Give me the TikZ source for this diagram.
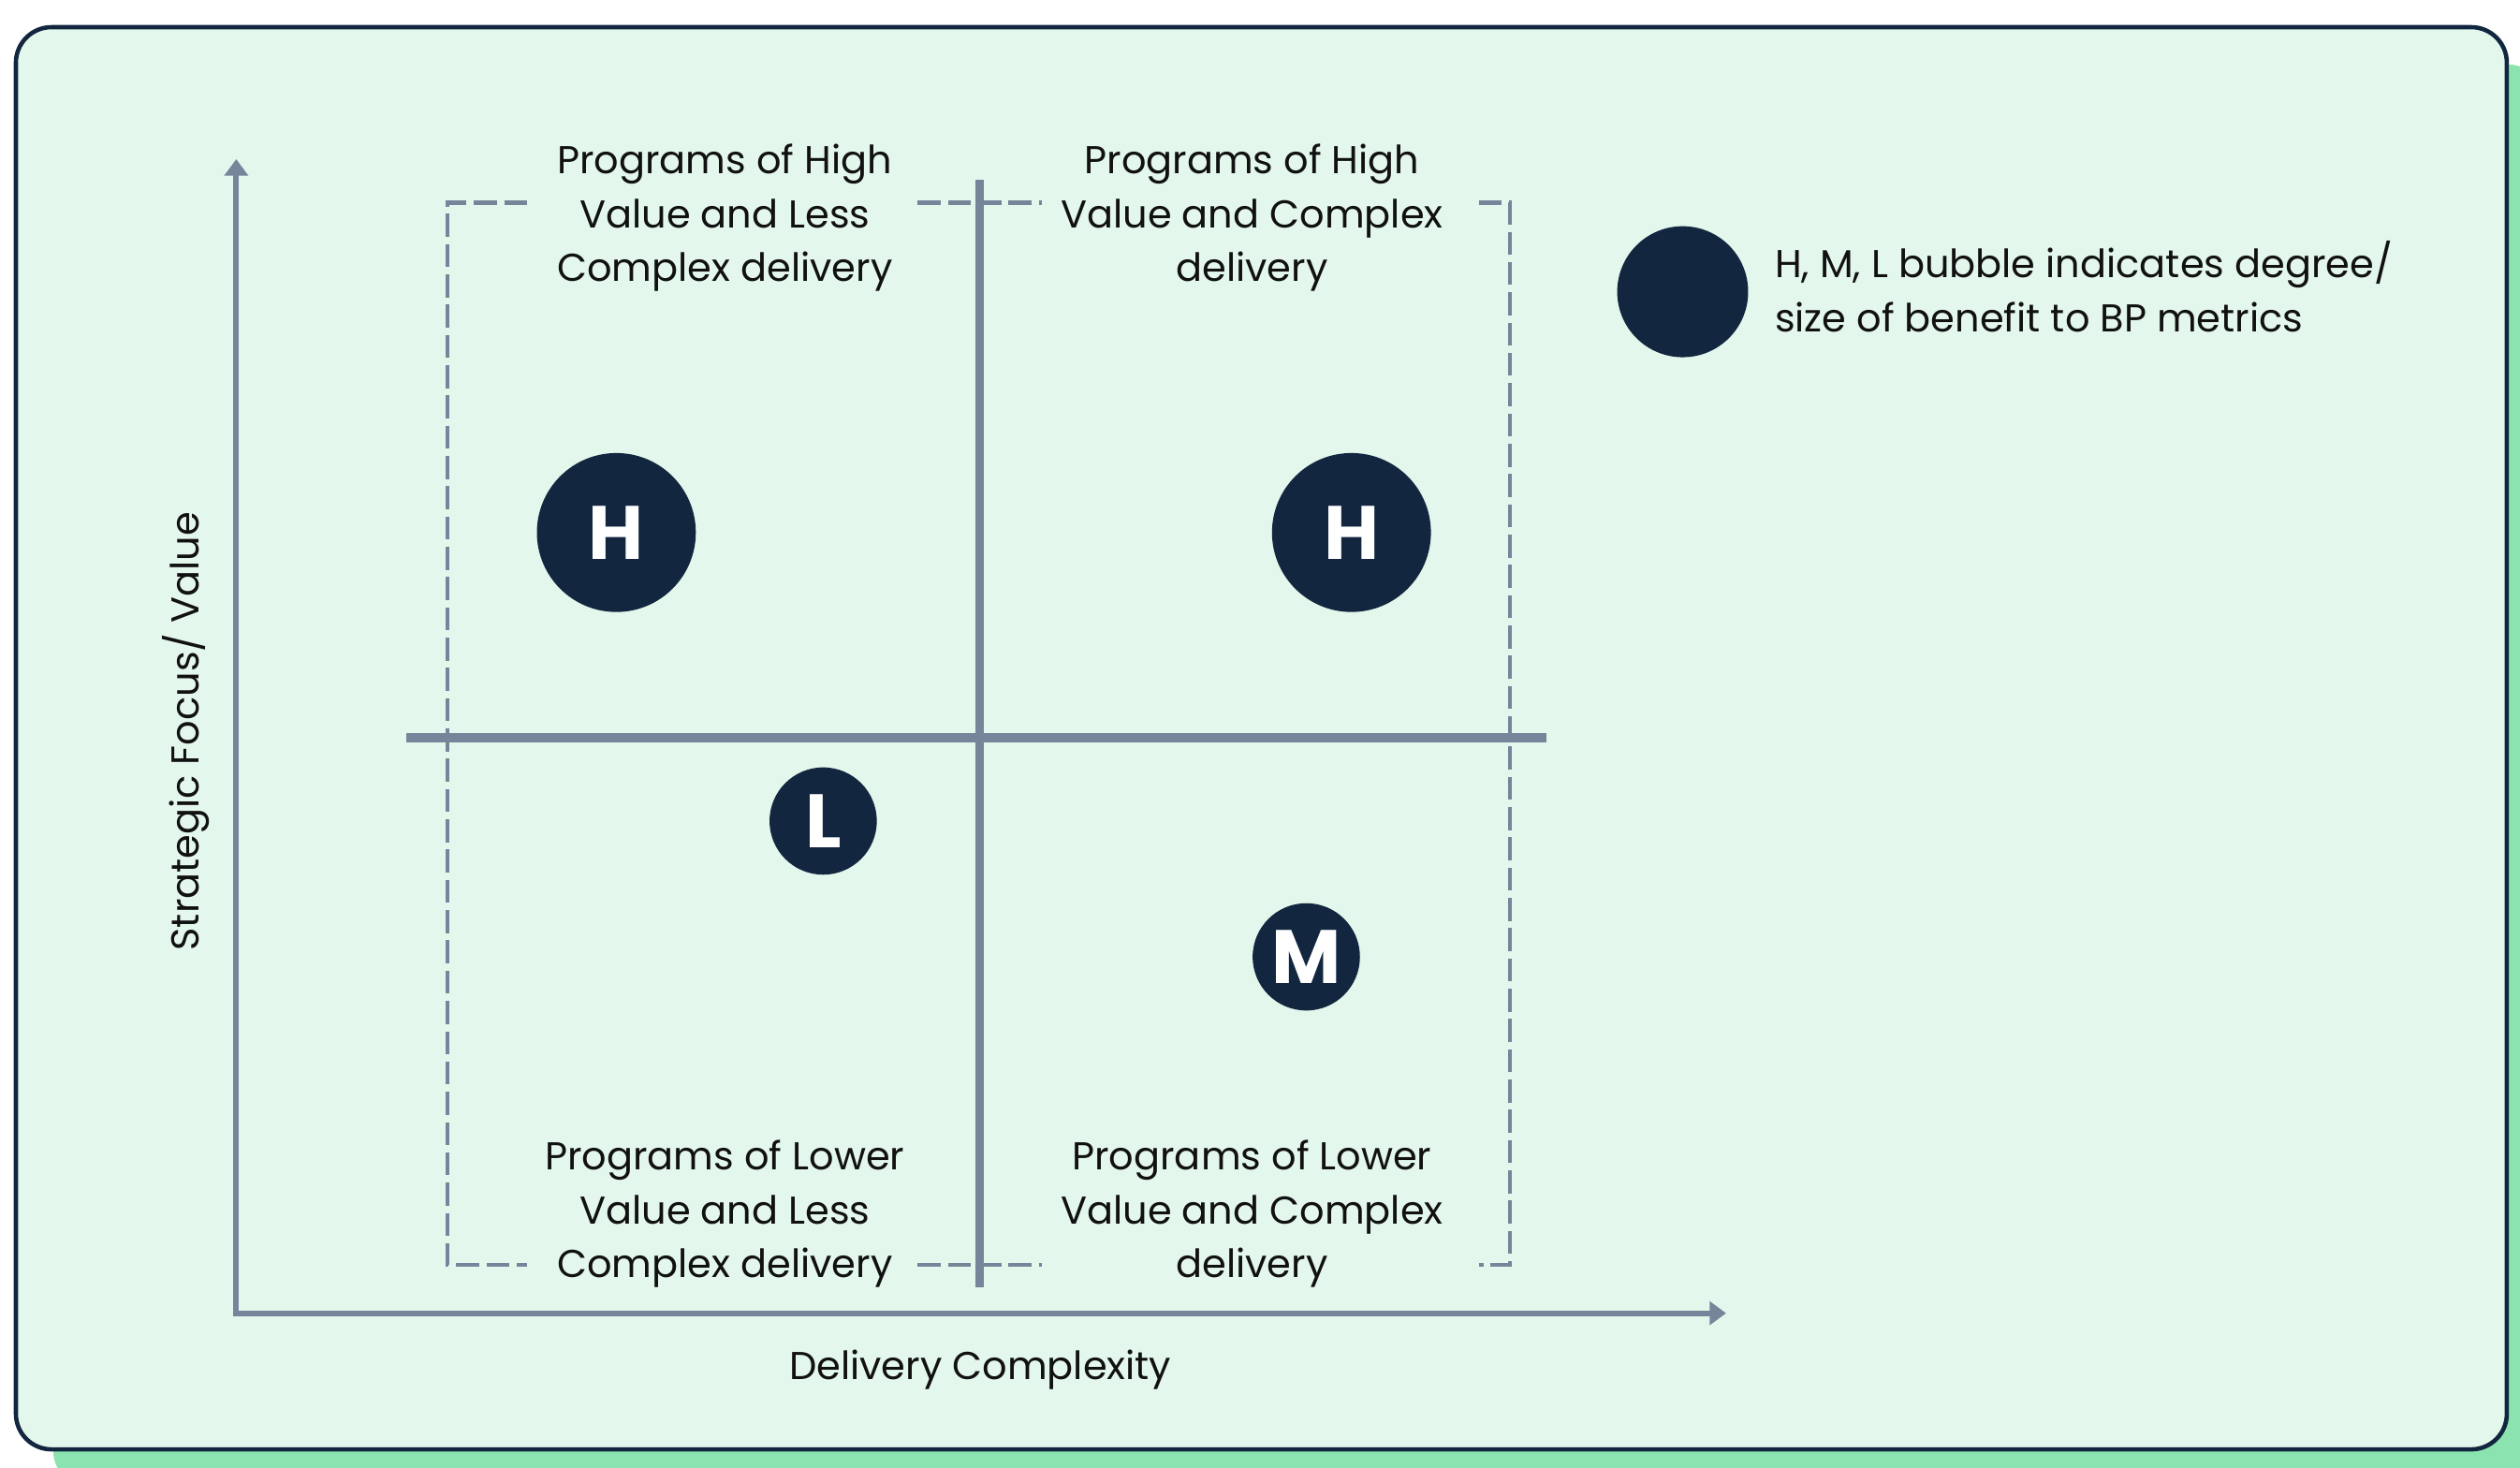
\documentclass[tikz,border=0pt]{standalone}
\usepackage{fontspec}
\setmainfont{Poppins}
\usetikzlibrary{arrows.meta}

\definecolor{mint}{HTML}{E3F7EC}
\definecolor{shadowgreen}{HTML}{8BE3AF}
\definecolor{navy}{HTML}{12263F}
\definecolor{slate}{HTML}{77859A}
\definecolor{ink}{HTML}{111111}

\begin{document}
\begin{tikzpicture}[x=0.0171684cm, y=-0.0171684cm,
  bodyfont/.style={font=\fontsize{11.8}{16.36}\selectfont, text=ink},
  quadlabel/.style={bodyfont, align=center, inner sep=0pt, anchor=north,
    execute at begin node=\strut, execute at end node=\strut},
  legendlabel/.style={bodyfont, align=left, inner sep=0pt, anchor=north west,
    execute at begin node=\strut, execute at end node=\strut},
  axislabel/.style={bodyfont, inner sep=0pt, anchor=base},
  bubble/.style={circle, fill=navy, inner sep=0pt, text=white,
    font=\fontsize{23}{24}\selectfont\bfseries},
  bigbubble/.style={bubble, minimum size=48.3pt},
  smallbubble/.style={bubble, minimum size=32.6pt},
  keybubble/.style={bubble, minimum size=39.8pt},
  axisline/.style={draw=slate, line width=1.7pt, line cap=rect,
    -{Triangle[length=5pt,width=7pt]}},
  divider/.style={draw=slate, line width=2.7pt},
  framedash/.style={draw=slate, line width=1.25pt, dash pattern=on 7pt off 2.2pt},
  card/.style={rounded corners=0.38cm},
]
\useasboundingbox (0,0) rectangle (1568,913);
\clip (0,0) rectangle (1568,913);

% card with its offset green shadow
\fill[shadowgreen, card] (33.2,40.2) rectangle (1583.1,925);
\draw[card, fill=mint, draw=navy, line width=1.3pt] (9.9,16.9) rectangle (1559.8,901.7);

% dashed frame around the four quadrants, broken where the labels sit
\draw[framedash] (328,126) -- (278.5,126) -- (278.5,787) -- (328,787);
\draw[framedash] (920,126) -- (939.5,126) -- (939.5,787) -- (920,787);
\draw[framedash] (571,126) -- (648,126);
\draw[framedash] (571,787) -- (648,787);

% quadrant dividers
\coordinate (vtop) at (609.5,112);
\coordinate (vbot) at (609.5,801);
\coordinate (hleft) at (253,459);
\coordinate (hright) at (962,459);
\draw[divider] (vtop) -- (vbot);
\draw[divider] (hleft) -- (hright);

% axes
\coordinate (origin) at (147,817);
\coordinate (ytip) at (147,99);
\coordinate (xtip) at (1074,817);
\draw[axisline] (origin) -- (ytip);
\draw[axisline] (origin) -- (xtip);

% quadrant captions
\node[quadlabel] (tl) at (451,89.2) {Programs of High\\Value and Less\\Complex delivery};
\node[quadlabel] (tr) at (779,89.2) {Programs of High\\Value and Complex\\delivery};
\node[quadlabel] (bl) at (451,709) {Programs of Lower\\Value and Less\\Complex delivery};
\node[quadlabel] (br) at (779,709) {Programs of Lower\\Value and Complex\\delivery};

% axis titles
\node[axislabel] (xlabel) at (610,858) {Delivery Complexity};
\node[axislabel, rotate=90] (ylabel) at (124,455) {Strategic Focus/ Value};

% benefit bubbles
\node[bigbubble] (hleftb) at (383.5,331.3) {H};
\node[bigbubble] (hrightb) at (840.9,331.3) {H};
\node[smallbubble] (lb) at (512.2,510.8) {L};
\node[smallbubble] (mb) at (812.8,595.3) {M};

% key
\node[keybubble] (key) at (1047,181.5) {};
\node[legendlabel] (keytext) at (1104,149.6) {H, M, L bubble indicates degree/\\size of benefit to BP metrics};
\end{tikzpicture}
\end{document}
